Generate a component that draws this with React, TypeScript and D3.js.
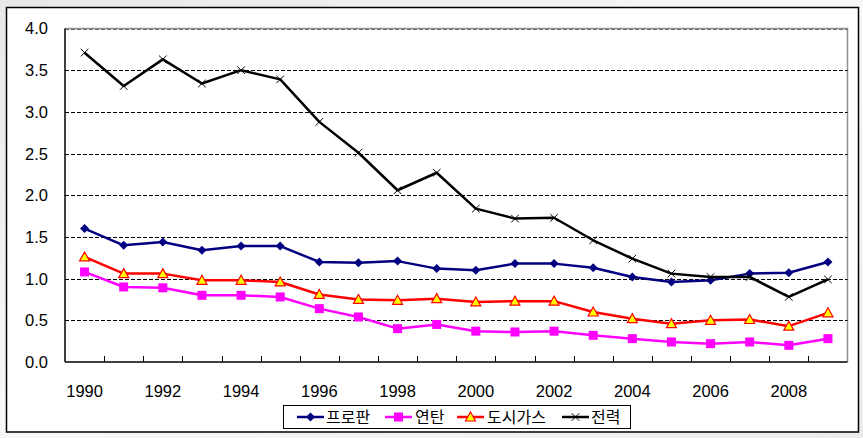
import React from "react";
import * as d3 from "d3";

const years = [1990,1991,1992,1993,1994,1995,1996,1997,1998,1999,2000,2001,2002,2003,2004,2005,2006,2007,2008,2009];
const propane = [1.60,1.40,1.44,1.34,1.39,1.39,1.20,1.19,1.21,1.12,1.10,1.18,1.18,1.13,1.02,0.96,0.98,1.06,1.07,1.20];
const briquette = [1.08,0.90,0.89,0.80,0.80,0.78,0.64,0.54,0.40,0.45,0.37,0.36,0.37,0.32,0.28,0.24,0.22,0.24,0.20,0.28];
const cityGas = [1.26,1.06,1.06,0.98,0.98,0.96,0.81,0.75,0.74,0.76,0.72,0.73,0.73,0.60,0.52,0.46,0.50,0.51,0.43,0.59];
const power = [3.71,3.31,3.63,3.34,3.50,3.39,2.88,2.51,2.06,2.27,1.84,1.72,1.73,1.46,1.24,1.06,1.02,1.02,0.78,0.99];
const yTicks = [0,0.5,1.0,1.5,2.0,2.5,3.0,3.5,4.0];
const seriesNames = ["프로판","연탄","도시가스","전력"];

const W = 863, H = 438;
const L = 65, R = 847.5, T = 28.5, B = 362;

function Marker({ kind, x, y }: { kind: string; x: number; y: number }) {
  if (kind === "diamond") {
    const s = 4.5;
    return <path d={`M${x},${y - s}L${x + s},${y}L${x},${y + s}L${x - s},${y}Z`} fill="#000080" />;
  }
  if (kind === "square") {
    const s = 4.5;
    return <rect x={x - s} y={y - s} width={2 * s} height={2 * s} fill="#FF00FF" />;
  }
  if (kind === "triangle") {
    const s = 5;
    return <path d={`M${x},${y - s}L${x + s},${y + s * 0.8}L${x - s},${y + s * 0.8}Z`} fill="#FFFF00" stroke="#FF0000" strokeWidth={1.2} />;
  }
  const s = 3.8;
  return <path d={`M${x - s},${y - s}L${x + s},${y + s}M${x + s},${y - s}L${x - s},${y + s}`} stroke="#000" strokeWidth={1} fill="none" />;
}

export default function App() {
  const x = d3.scaleBand<number>().domain(years).range([L, R]).padding(0);
  const y = d3.scaleLinear().domain([0, 4]).range([B, T]);
  const cx = (yr: number) => (x(yr) as number) + x.bandwidth() / 2;

  const series = [
    { name: seriesNames[0], data: propane, color: "#000080", marker: "diamond" },
    { name: seriesNames[1], data: briquette, color: "#FF00FF", marker: "square" },
    { name: seriesNames[2], data: cityGas, color: "#FF0000", marker: "triangle" },
    { name: seriesNames[3], data: power, color: "#000000", marker: "x" },
  ];
  const line = d3.line<number>().x((_, i) => cx(years[i])).y((v) => y(v));

  const legendItems = [
    { lx: 297, tx: 326 },
    { lx: 385, tx: 415 },
    { lx: 457, tx: 487 },
    { lx: 562, tx: 591 },
  ];

  return (
    <svg width={W} height={H} style={{ position: "absolute", left: 0, top: 0 }} fontFamily="'Liberation Sans', Arial, sans-serif">
      <defs>
        <linearGradient id="bg" x1="0" y1="0" x2="1" y2="1">
          <stop offset="0" stopColor="#e8e8e8" />
          <stop offset="0.5" stopColor="#f8f8f8" />
          <stop offset="1" stopColor="#ececec" />
        </linearGradient>
      </defs>
      <rect x={0} y={0} width={W} height={H} fill="url(#bg)" />
      <rect x={6.5} y={7.5} width={852} height={424.5} fill="#fff" stroke="#000" strokeWidth={1.5} />
      {/* plot border top/right gray */}
      <path d={`M${L},${T}H${R}V${B}`} fill="none" stroke="#909090" strokeWidth={1.5} />
      {yTicks.filter((t) => t > 0).map((t) => (
        <line key={t} x1={L} x2={R} y1={Math.round(y(t)) + 0.5} y2={Math.round(y(t)) + 0.5} stroke={t === 4 ? "#666" : "#000"} strokeDasharray="4,2" strokeWidth={1} />
      ))}
      {/* axes */}
      <line x1={L} x2={L} y1={T} y2={B} stroke="#000" strokeWidth={1.5} />
      <line x1={L} x2={R} y1={B} y2={B} stroke="#000" strokeWidth={1.5} />
      {years.slice(1).map((yr) => (
        <line key={yr} x1={Math.round(x(yr) as number) + 0.5} x2={Math.round(x(yr) as number) + 0.5} y1={B} y2={B - 6} stroke="#000" strokeWidth={1} />
      ))}
      {yTicks.map((t) => (
        <text key={t} x={48} y={y(t)} dy="0.36em" textAnchor="end" fontSize={16.5} fill="#000">{t.toFixed(1)}</text>
      ))}
      {years.filter((yr) => yr % 2 === 0).map((yr) => (
        <text key={yr} x={cx(yr)} y={391} dy="0.36em" textAnchor="middle" fontSize={16.5} fill="#000">{yr}</text>
      ))}
      {series.map((s) => (
        <g key={s.name}>
          <path d={line(s.data) || ""} fill="none" stroke={s.color} strokeWidth={2.5} strokeLinejoin="round" />
          {s.data.map((v, i) => (
            <Marker key={i} kind={s.marker} x={cx(years[i])} y={y(v)} />
          ))}
        </g>
      ))}
      {/* legend */}
      <rect x={283.5} y={405.5} width={347} height={23} fill="#fff" stroke="#000" strokeWidth={1} />
      {series.map((s, i) => (
        <g key={s.name}>
          <line x1={legendItems[i].lx} x2={legendItems[i].lx + 27} y1={417} y2={417} stroke={s.color} strokeWidth={2.5} />
          <Marker kind={s.marker} x={legendItems[i].lx + 13.5} y={417} />
          <text x={legendItems[i].tx} y={417} dy="0.36em" fontSize={16} fontFamily="'Noto Sans CJK KR', sans-serif" fill="#000">{s.name}</text>
        </g>
      ))}
    </svg>
  );
}
